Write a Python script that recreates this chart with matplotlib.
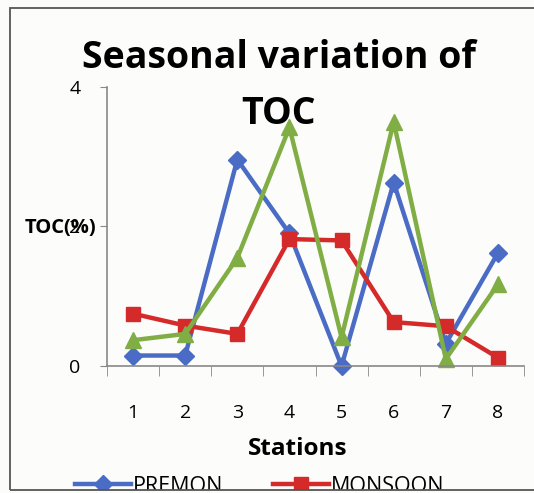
import numpy as np
import matplotlib.pyplot as plt
from matplotlib.patches import Rectangle

# values
stations = [1, 2, 3, 4, 5, 6, 7, 8]
premon = [0.15, 0.15, 2.96, 1.90, 0.00, 2.63, 0.32, 1.62]
monsoon = [0.75, 0.58, 0.46, 1.82, 1.80, 0.63, 0.57, 0.12]
postmon = [0.37, 0.46, 1.55, 3.42, 0.41, 3.50, 0.10, 1.17]
series_names = ["PREMON", "MONSOON", "POSTMON"]
yticks = [0, 2, 4]

plt.rcParams['font.family'] = ['Open Sans', 'DejaVu Sans']

W, H = 534, 493
fig = plt.figure(figsize=(W / 100, H / 100), dpi=100)
fig.patch.set_facecolor("#fcfcfb")

ax = fig.add_axes([107 / W, 1 - 366 / H, (524 - 107) / W, (366 - 87) / H])
ax.set_facecolor("none")

styles = [
    dict(color="#4a6cc4", marker="D", markersize=9),
    dict(color="#d42a2a", marker="s", markersize=10),
    dict(color="#80ae45", marker="^", markersize=11),
]
handles = []
for vals, name, st in zip([premon, monsoon, postmon], series_names, styles):
    h, = ax.plot(stations, vals, lw=3.2, label=name, clip_on=False, **st)
    handles.append(h)

ax.set_xlim(0.5, 8.5)
ax.set_ylim(0, 4)
ax.set_xticks(stations)
ax.set_xticks(np.arange(0.5, 9, 1), minor=True)
ax.set_yticks(yticks)
ax.tick_params(axis="x", which="major", length=0, labelsize=14, pad=27)
ax.tick_params(axis="x", which="minor", length=7, color="#888888", direction="out")
ax.tick_params(axis="y", length=5, color="#888888", labelsize=14, pad=14)

for s in ["top", "right"]:
    ax.spines[s].set_visible(False)
for s in ["left", "bottom"]:
    ax.spines[s].set_color("#888888")
    ax.spines[s].set_linewidth(1.2)

# title sits over the plot area, as in the original Excel chart
fig.text(279 / W, 1 - 58 / H, "Seasonal variation of", ha="center", va="center",
         fontsize=27, fontweight="bold")
fig.text(279 / W, 1 - 114 / H, "TOC", ha="center", va="center",
         fontsize=27, fontweight="bold")
fig.text(60 / W, 1 - 228 / H, "TOC(%)", ha="center", va="center",
         fontsize=14.5, fontweight="bold")
fig.text(298 / W, 1 - 449 / H, "Stations", ha="center", va="center",
         fontsize=17.5, fontweight="bold")

# Excel wraps the third entry to a second row, which falls outside the chart area
order = [0, 2, 1]
fig.legend(handles=[handles[i] for i in order], loc="upper left",
           bbox_to_anchor=(75 / W, 1 - 476 / H), ncol=2, frameon=False, fontsize=15.5,
           borderpad=0, handlelength=2.6, handletextpad=0.1, columnspacing=1.6,
           borderaxespad=0)

# chart area border, legend gets cut at its bottom edge
fig.patches.append(Rectangle((0, 0), 1, 3 / H, transform=fig.transFigure,
                             facecolor="#fcfcfb", edgecolor="none", zorder=10))
fig.patches.append(Rectangle((10 / W, 3 / H), 1.2, 1 - 11 / H, transform=fig.transFigure,
                             facecolor="none", edgecolor="#555555", lw=1.3, zorder=11))

plt.savefig("out.png", dpi=100)
